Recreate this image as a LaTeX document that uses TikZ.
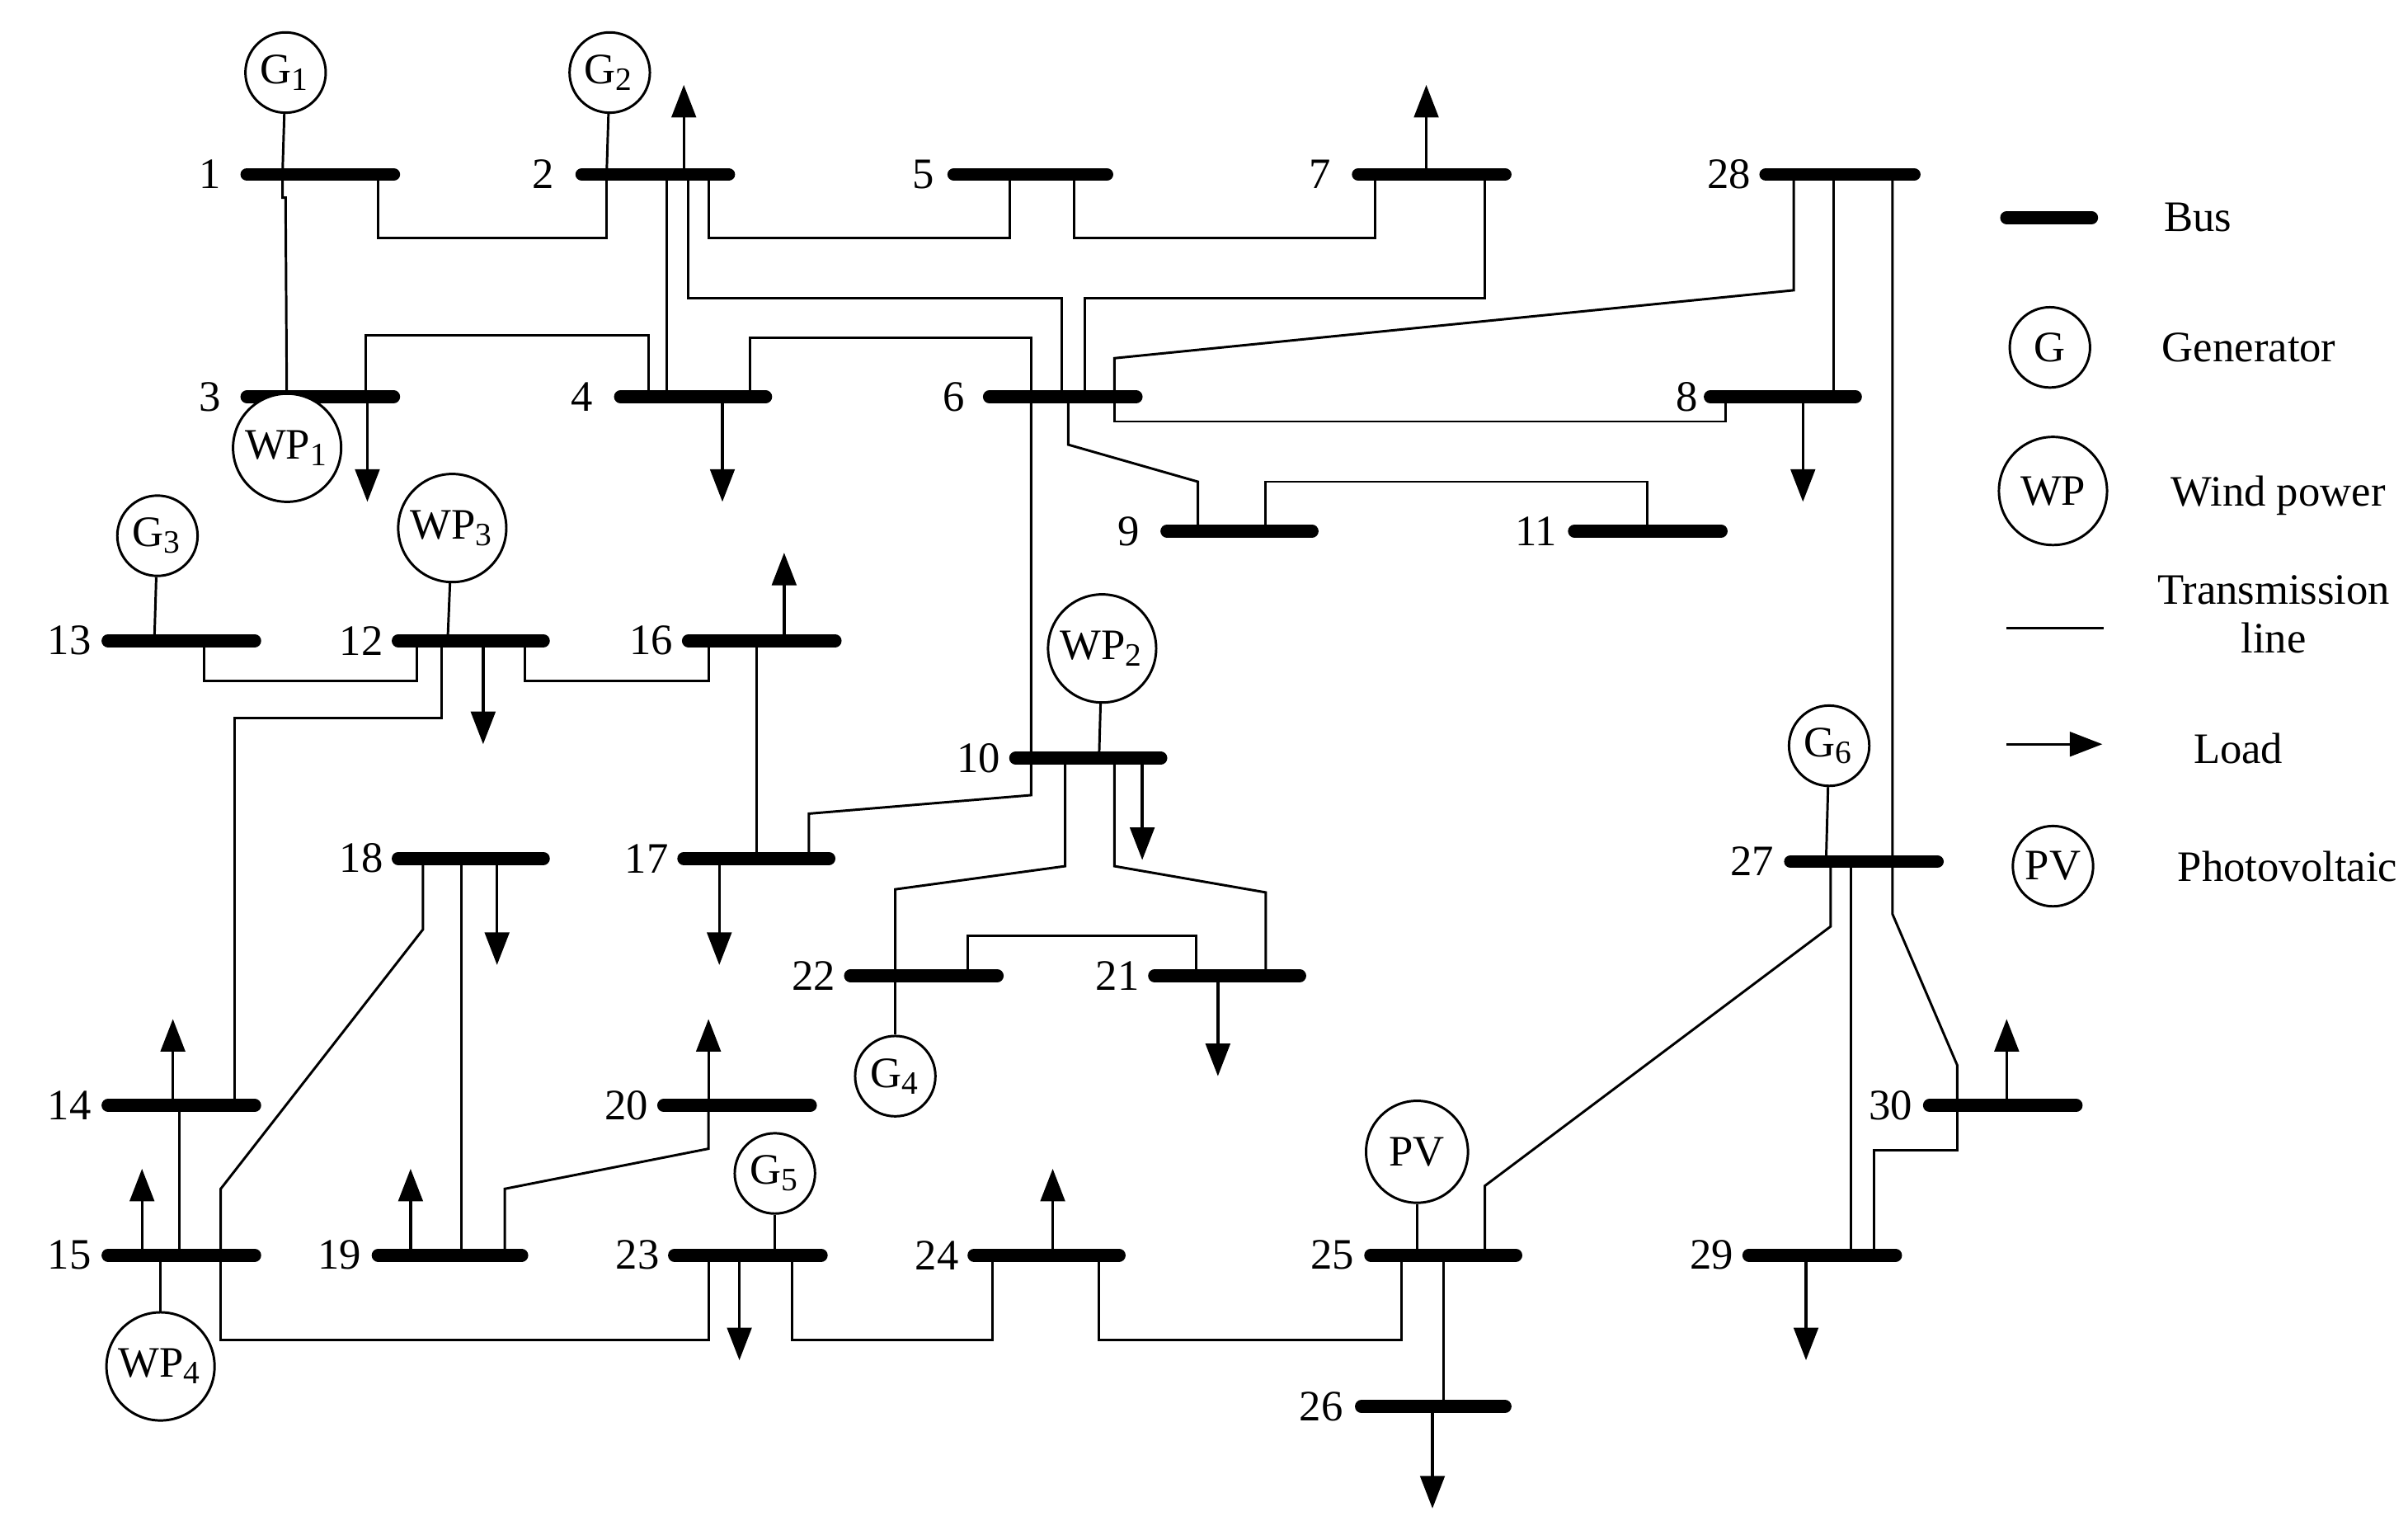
\documentclass[tikz,border=0pt]{standalone}
\usepackage{fontspec}
\setmainfont{Liberation Serif}
\usetikzlibrary{arrows.meta}
\begin{document}
\begin{tikzpicture}[x=0.01cm,y=-0.01cm,
  bus/.style={line width=2.4pt,line cap=round},
  ln/.style={line width=0.45pt},
  ld/.style={line width=0.5pt,-{Triangle[length=6pt,width=4.5pt]}},
  gen/.style={draw,circle,line width=0.45pt,minimum size=0.52cm,inner sep=0pt,font=\fontsize{8}{9}\selectfont},
  wp/.style={draw,circle,line width=0.45pt,minimum size=0.70cm,inner sep=0pt,font=\fontsize{8}{9}\selectfont},
  lab/.style={font=\fontsize{8}{9}\selectfont,inner sep=0pt},
  every node/.style={font=\fontsize{8}{9}\selectfont}]
\useasboundingbox (0,0) rectangle (1560,997);
\newcommand{\bus}[5]{\draw[bus] (#1,#3) -- (#2,#3); \node[lab] (b#4) at (#5,#3) {#4};}
\bus{160}{255}{113}{1}{136}
\bus{377}{472}{113}{2}{352}
\bus{618}{717}{113}{5}{598}
\bus{880}{975}{113}{7}{855}
\bus{1144}{1240}{113}{28}{1120}
\bus{160}{255}{257}{3}{136}
\bus{402}{496}{257}{4}{377}
\bus{641}{736}{257}{6}{618}
\bus{1108}{1202}{257}{8}{1093}
\bus{756}{850}{344}{9}{731}
\bus{1020}{1115}{344}{11}{995}
\bus{70}{165}{415}{13}{45}
\bus{258}{352}{415}{12}{234}
\bus{446}{541}{415}{16}{422}
\bus{658}{752}{491}{10}{634}
\bus{258}{352}{556}{18}{234}
\bus{443}{537}{556}{17}{419}
\bus{551}{646}{632}{22}{527}
\bus{748}{842}{632}{21}{724}
\bus{70}{165}{716}{14}{45}
\bus{430}{525}{716}{20}{406}
\bus{1250}{1345}{716}{30}{1225}
\bus{70}{165}{813}{15}{45}
\bus{245}{338}{813}{19}{220}
\bus{437}{532}{813}{23}{413}
\bus{631}{725}{813}{24}{607}
\bus{888}{982}{813}{25}{863}
\bus{1133}{1228}{813}{29}{1109}
\bus{1160}{1255}{558}{27}{1135}
\bus{882}{975}{911}{26}{856}
% generators
\node[gen] (G1) at (185,47) {G\textsubscript{1}};
\node[gen] (G2) at (395,47) {G\textsubscript{2}};
\node[gen] (G3) at (102,347) {G\textsubscript{3}};
\node[gen] (G4) at (580,697) {G\textsubscript{4}};
\node[gen] (G5) at (502,760) {G\textsubscript{5}};
\node[gen] (G6) at (1185,483) {G\textsubscript{6}};
\node[wp,fill=white] (WP1) at (186,290) {WP\textsubscript{1}};
\node[wp] (WP2) at (714,420) {WP\textsubscript{2}};
\node[wp] (WP3) at (293,342) {WP\textsubscript{3}};
\node[wp] (WP4) at (104,885) {WP\textsubscript{4}};
\node[wp,minimum size=0.66cm] (PV) at (918,746) {PV};
\draw[ln] (G1) -- (183,113);
\draw[ln] (G2) -- (393,113);
\draw[ln] (G3) -- (100,415);
\draw[ln] (G4) -- (580,632);
\draw[ln] (G5) -- (502,813);
\draw[ln] (G6) -- (1183,558);
\draw[ln] (WP2) -- (712,491);
\draw[ln] (WP3) -- (290,415);
\draw[ln] (WP4) -- (104,813);
\draw[ln] (PV) -- (918,813);
% lines
\draw[ln] (183,113) -- (183,128) -- (185,128) -- (WP1);
\draw[ln] (245,113) -- (245,154) -- (393,154) -- (393,113);
\draw[ln] (432,113) -- (432,257);
\draw[ln] (446,113) -- (446,193) -- (688,193) -- (688,257);
\draw[ln] (459,113) -- (459,154) -- (654,154) -- (654,113);
\draw[ln] (696,113) -- (696,154) -- (891,154) -- (891,113);
\draw[ln] (962,113) -- (962,193) -- (703,193) -- (703,257);
\draw[ln] (237,257) -- (237,217) -- (420,217) -- (420,257);
\draw[ln] (486,257) -- (486,219) -- (668,219) -- (668,257);
\draw[ln] (668,257) -- (668,515) -- (524,527) -- (524,556);
\draw[ln] (722,257) -- (722,232) -- (1162,188) -- (1162,113);
\draw[ln] (722,257) -- (722,273) -- (1118,273) -- (1118,257);
\draw[ln] (692,257) -- (692,288) -- (776,312) -- (776,344);
\draw[ln] (820,344) -- (820,312) -- (1067,312) -- (1067,344);
\draw[ln] (1188,113) -- (1188,257);
\draw[ln] (1226,113) -- (1226,592) -- (1268,690) -- (1268,716);
\draw[ln] (1268,716) -- (1268,745) -- (1214,745) -- (1214,813);
\draw[ln] (1199,558) -- (1199,813);
\draw[ln] (1186,558) -- (1186,600) -- (962,768) -- (962,813);
\draw[ln] (935,813) -- (935,911);
\draw[ln] (712,813) -- (712,868) -- (908,868) -- (908,813);
\draw[ln] (513,813) -- (513,868) -- (643,868) -- (643,813);
\draw[ln] (143,813) -- (143,868) -- (459,868) -- (459,813);
\draw[ln] (143,813) -- (143,770) -- (274,602) -- (274,556);
\draw[ln] (116,716) -- (116,813);
\draw[ln] (286,415) -- (286,465) -- (152,465) -- (152,716);
\draw[ln] (132,415) -- (132,441) -- (270,441) -- (270,415);
\draw[ln] (340,415) -- (340,441) -- (459,441) -- (459,415);
\draw[ln] (490,415) -- (490,556);
\draw[ln] (299,556) -- (299,813);
\draw[ln] (327,813) -- (327,770) -- (459,744) -- (459,716);
\draw[ln] (690,491) -- (690,561) -- (580,576) -- (580,632);
\draw[ln] (722,491) -- (722,561) -- (820,578) -- (820,632);
\draw[ln] (627,632) -- (627,606) -- (775,606) -- (775,632);
% loads
\draw[ld] (443,113) -- (443,55);
\draw[ld] (924,113) -- (924,55);
\draw[ld] (238,257) -- (238,325);
\draw[ld] (468,257) -- (468,325);
\draw[ld] (1168,257) -- (1168,325);
\draw[ld] (508,415) -- (508,358);
\draw[ld] (313,415) -- (313,482);
\draw[ld] (740,491) -- (740,557);
\draw[ld] (322,556) -- (322,625);
\draw[ld] (466,556) -- (466,625);
\draw[ld] (789,632) -- (789,697);
\draw[ld] (112,716) -- (112,660);
\draw[ld] (459,716) -- (459,660);
\draw[ld] (1300,716) -- (1300,660);
\draw[ld] (92,813) -- (92,757);
\draw[ld] (266,813) -- (266,757);
\draw[ld] (479,813) -- (479,881);
\draw[ld] (682,813) -- (682,757);
\draw[ld] (1170,813) -- (1170,881);
\draw[ld] (928,911) -- (928,977);
% legend
\draw[bus] (1300,141) -- (1355,141);
\node (lbus) at (1424,141) {Bus};
\node[gen] (lG) at (1328,225) {G};
\node (lgen) at (1457,225) {Generator};
\node[wp] (lWP) at (1330,318) {WP};
\node (lwp) at (1476,321) {Wind power};
\draw[ln] (1300,407) -- (1363,407);
\node[align=center] (ltl) at (1473,398) {Transmission\\line};
\draw[ld] (1300,482) -- (1362,482);
\node (lload) at (1450,485) {Load};
\node[gen] (lPV) at (1330,561) {PV};
\node (lpv) at (1482,561) {Photovoltaic};
\end{tikzpicture}
\end{document}
